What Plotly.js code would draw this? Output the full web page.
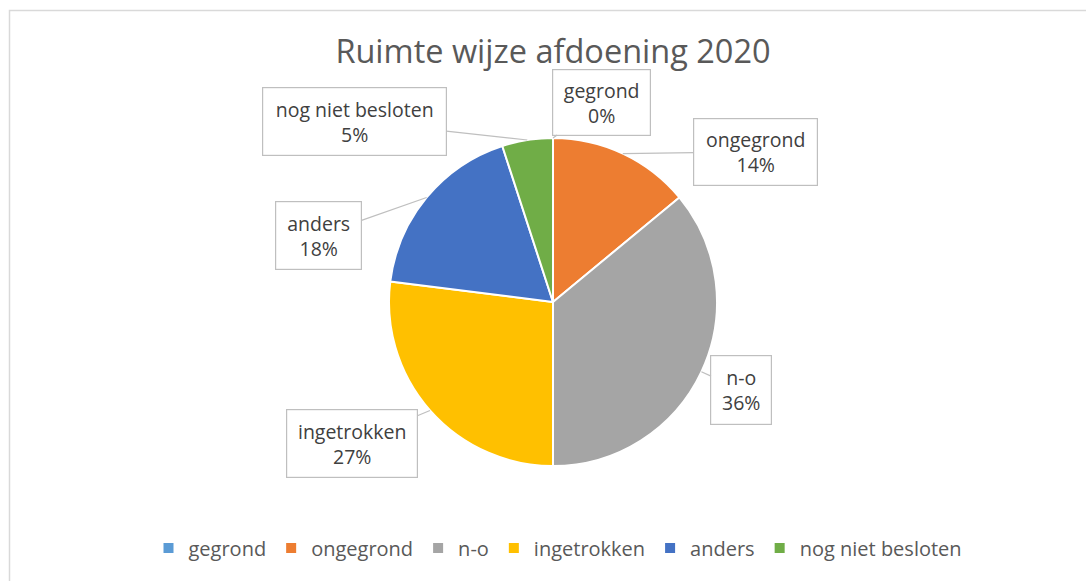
<!DOCTYPE html>
<html>
<head>
<meta charset="utf-8">
<script src="https://cdn.plot.ly/plotly-3.0.1.min.js"></script>
<style>html,body{margin:0;padding:0;background:#fff;}#chart{width:1086px;height:581px;}</style>
</head>
<body>
<div id="chart"></div>
<script>
// Data
const categories = ["gegrond", "ongegrond", "n-o", "ingetrokken", "anders", "nog niet besloten"];
const values = [0, 14, 36, 27, 18, 5];
const percentLabels = ["0%", "14%", "36%", "27%", "18%", "5%"];
const colors = ["#5B9BD5", "#ED7D31", "#A5A5A5", "#FFC000", "#4472C4", "#70AD47"];

const W = 1086, H = 581;
const cx = 553, cy = 302, R = 164;
const dom = {
  x: [(cx - R) / W, (cx + R) / W],
  y: [(H - cy - R) / H, (H - cy + R) / H]
};

// callout box offsets (pixels from slice rim midpoint) and box sizes
const boxOffsets = [[48, -36], [133, -2], [40, 18], [-78, 33], [-108, 38], [-173, -19]];
const boxSizes = [[89, 57], [115, 58], [52, 60], [122, 59], [77, 59], [175, 59]];

const total = values.reduce((a, b) => a + b, 0);
let cum = 0;
const annotations = categories.map((c, i) => {
  const mid = (cum + values[i] / 2) / total;
  cum += values[i];
  const ang = mid * 2 * Math.PI;
  const px = cx + R * Math.sin(ang);
  const py = cy - R * Math.cos(ang);
  return {
    x: px / W, y: (H - py) / H, xref: "paper", yref: "paper",
    text: c + "<br>" + percentLabels[i],
    showarrow: true, arrowhead: 0, arrowwidth: 1.2, arrowcolor: "#BFBFBF",
    ax: boxOffsets[i][0], ay: boxOffsets[i][1],
    width: boxSizes[i][0], height: boxSizes[i][1],
    bordercolor: "#BFBFBF", borderwidth: 1.2, borderpad: 4, bgcolor: "#FFFFFF",
    font: {family: "Open Sans, sans-serif", size: 19.5, color: "#404040"},
    align: "center", valign: "middle"
  };
});

const trace = {
  type: "pie",
  labels: categories,
  values: values,
  sort: false,
  direction: "clockwise",
  rotation: 0,
  marker: {colors: colors, line: {color: "#FFFFFF", width: 2}},
  textinfo: "none",
  hoverinfo: "label+percent",
  domain: dom
};

const layout = {
  width: W, height: H,
  margin: {l: 0, r: 0, t: 0, b: 0},
  paper_bgcolor: "#FFFFFF",
  title: {
    text: "Ruimte wijze afdoening 2020",
    font: {family: "Open Sans, sans-serif", size: 32.5, color: "#595959"},
    x: cx / W, xanchor: "center", y: 1 - 52 / H, yanchor: "middle"
  },
  showlegend: true,
  legend: {
    orientation: "h", x: 558 / W, xanchor: "center", y: 1 - 548 / H, yanchor: "middle",
    font: {family: "Open Sans, sans-serif", size: 20, color: "#595959"},
    itemwidth: 30, traceorder: "normal"
  },
  annotations: annotations,
  shapes: [{
    type: "rect", xref: "paper", yref: "paper",
    x0: 9.5 / W, x1: 1.2, y0: -0.2, y1: 1 - 10.5 / H,
    line: {color: "#D9D9D9", width: 1.5}, fillcolor: "rgba(0,0,0,0)", layer: "below"
  }]
};

Plotly.newPlot("chart", [trace], layout, {displayModeBar: false, staticPlot: true});
</script>
</body>
</html>
